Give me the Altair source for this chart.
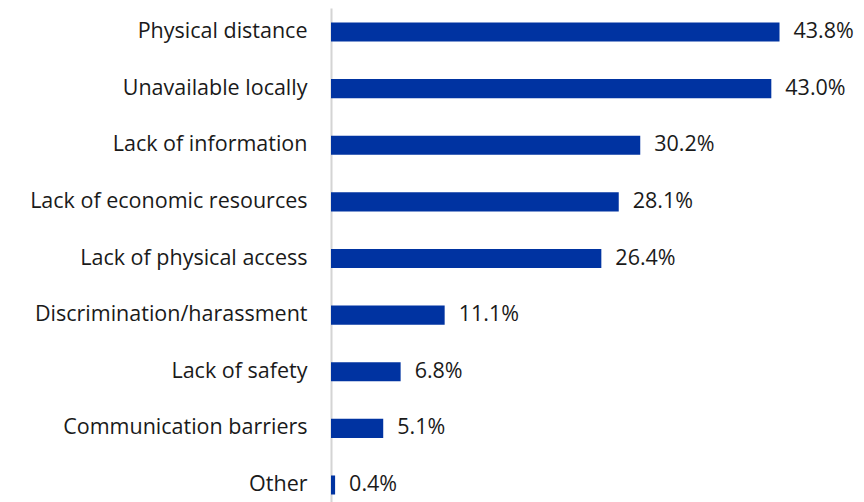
import altair as alt
import pandas as pd

categories = [
    "Physical distance",
    "Unavailable locally",
    "Lack of information",
    "Lack of economic resources",
    "Lack of physical access",
    "Discrimination/harassment",
    "Lack of safety",
    "Communication barriers",
    "Other",
]
values = [43.8, 43.0, 30.2, 28.1, 26.4, 11.1, 6.8, 5.1, 0.4]

df = pd.DataFrame({
    "category": categories,
    "value": values,
    "label": [f"{v:.1f}%" for v in values],
})

FONT = "Open Sans"
FS = 21.5
y_enc = alt.Y(
    "category:N",
    sort=categories,
    title=None,
    scale=alt.Scale(paddingInner=0.664, paddingOuter=0.256),
    axis=alt.Axis(
        domain=True,
        domainColor="#d4d4d4",
        domainWidth=2,
        ticks=False,
        labelPadding=24,
        labelFont=FONT,
        labelFontSize=FS,
        labelColor="#1a1a1a",
        labelLimit=400,
        grid=False,
    ),
)
x_enc = alt.X("value:Q", scale=alt.Scale(domain=[0, 46.875], nice=False), axis=None)

bars = alt.Chart(df).mark_bar(color="#0033A1").encode(y=y_enc, x=x_enc)
text = alt.Chart(df).mark_text(
    align="left", baseline="middle", dx=14, font=FONT, fontSize=FS, color="#1a1a1a"
).encode(y=alt.Y("category:N", sort=categories), x="value:Q", text="label:N")

chart = (bars + text).properties(
    width=480,
    height=501,
    autosize=alt.AutoSizeParams(type="none"),
    padding={"left": 323, "top": 0, "right": 44, "bottom": 0},
).configure_view(stroke=None, clip=False)

chart.save("out.html", embed_options={"renderer": "svg", "actions": False})
